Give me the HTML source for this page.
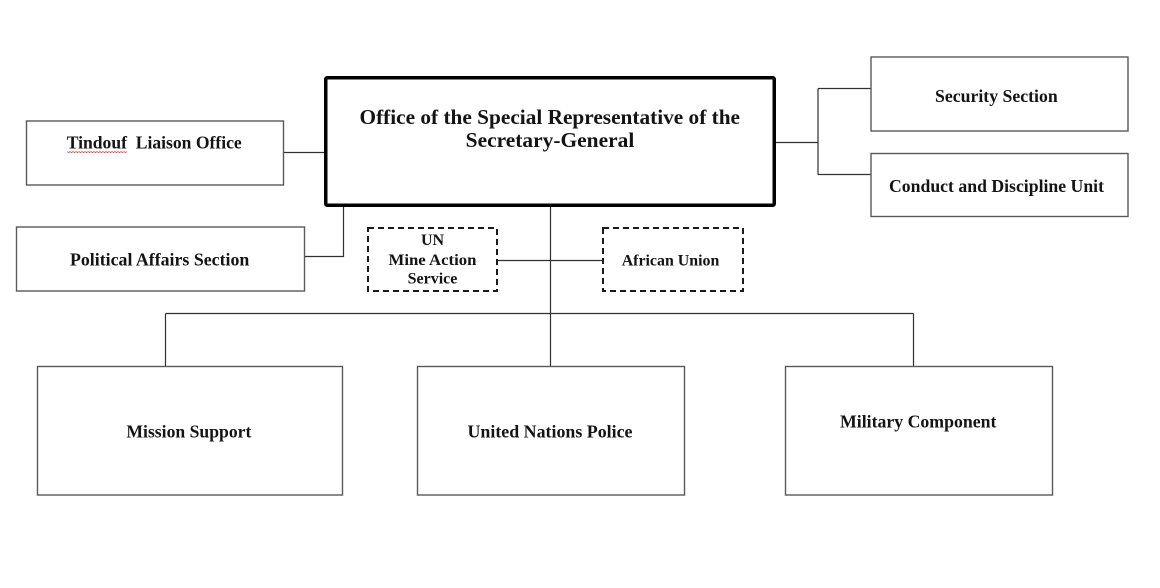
<!DOCTYPE html>
<html>
<head>
<meta charset="utf-8">
<style>
  html, body { margin: 0; padding: 0; background: #ffffff; }
  svg { display: block; }
  text { font-family: "Liberation Serif", "DejaVu Serif", serif; font-weight: bold; fill: #141414; }
</style>
</head>
<body>
<svg width="1160" height="588" viewBox="0 0 1160 588" xmlns="http://www.w3.org/2000/svg">
  <rect x="0" y="0" width="1160" height="588" fill="#ffffff"/>

  <!-- connectors -->
  <g stroke="#303030" stroke-width="1.2" fill="none">
    <line x1="283.5" y1="152.5" x2="324" y2="152.5"/>
    <polyline points="305,256.5 343.5,256.5 343.5,207"/>
    <line x1="550.5" y1="207" x2="550.5" y2="366"/>
    <line x1="497" y1="260.5" x2="603" y2="260.5"/>
    <line x1="165.5" y1="313.5" x2="913.5" y2="313.5"/>
    <line x1="165.5" y1="313.5" x2="165.5" y2="366"/>
    <line x1="913.5" y1="313.5" x2="913.5" y2="366"/>
    <line x1="776" y1="142.5" x2="818" y2="142.5"/>
    <line x1="818" y1="88.5" x2="818" y2="174.5"/>
    <line x1="818" y1="88.5" x2="871" y2="88.5"/>
    <line x1="818" y1="174.5" x2="871" y2="174.5"/>
  </g>

  <!-- main office box -->
  <rect x="325.75" y="77.75" width="448.5" height="127.5" rx="1.5" fill="#ffffff" stroke="#000000" stroke-width="3.5"/>

  <!-- solid boxes -->
  <g fill="#ffffff" stroke="#595959" stroke-width="1.4">
    <rect x="26.5" y="121" width="257" height="64"/>
    <rect x="16.5" y="227" width="288" height="64"/>
    <rect x="871" y="57" width="257" height="74"/>
    <rect x="871" y="153.5" width="257" height="63"/>
    <rect x="37.5" y="366.5" width="305" height="128.5"/>
    <rect x="417.5" y="366.5" width="267" height="128.5"/>
    <rect x="785.5" y="366.5" width="267" height="128.5"/>
  </g>

  <!-- dashed boxes -->
  <g fill="#ffffff" stroke="#1a1a1a" stroke-width="2" stroke-dasharray="6 4">
    <rect x="368" y="228" width="129" height="63"/>
    <rect x="603" y="228" width="140" height="63"/>
  </g>

  <!-- texts -->
  <text x="359.5" y="124" font-size="21.3" textLength="380.5" lengthAdjust="spacingAndGlyphs">Office of the Special Representative of the</text>
  <text x="465.7" y="147" font-size="21.3" textLength="168.6" lengthAdjust="spacingAndGlyphs">Secretary-General</text>

  <text x="66.7" y="148.5" font-size="17.6" textLength="175" lengthAdjust="spacingAndGlyphs" xml:space="preserve">Tindouf  Liaison Office</text>
  <path d="M67,151.5 l1.5,1.2 l1.5,-1.2 l1.5,1.2 l1.5,-1.2 l1.5,1.2 l1.5,-1.2 l1.5,1.2 l1.5,-1.2 l1.5,1.2 l1.5,-1.2 l1.5,1.2 l1.5,-1.2 l1.5,1.2 l1.5,-1.2 l1.5,1.2 l1.5,-1.2 l1.5,1.2 l1.5,-1.2 l1.5,1.2 l1.5,-1.2 l1.5,1.2 l1.5,-1.2 l1.5,1.2 l1.5,-1.2 l1.5,1.2 l1.5,-1.2 l1.5,1.2 l1.5,-1.2 l1.5,1.2 l1.5,-1.2 l1.5,1.2 l1.5,-1.2 l1.5,1.2 l1.5,-1.2 l1.5,1.2 l1.5,-1.2 l1.5,1.2 l1.5,-1.2 l1.5,1.2 l1.5,-1.2" fill="none" stroke="#e05050" stroke-width="0.8"/>

  <text x="70" y="265.5" font-size="17.6" textLength="179.3" lengthAdjust="spacingAndGlyphs">Political Affairs Section</text>

  <text x="935" y="101.8" font-size="17.6" textLength="122.7" lengthAdjust="spacingAndGlyphs">Security Section</text>
  <text x="889" y="192" font-size="17.6" textLength="215" lengthAdjust="spacingAndGlyphs">Conduct and Discipline Unit</text>

  <text x="432.5" y="245" font-size="16" text-anchor="middle">UN</text>
  <text x="432.5" y="265" font-size="16" text-anchor="middle" textLength="88" lengthAdjust="spacingAndGlyphs">Mine Action</text>
  <text x="432.5" y="283.5" font-size="16" text-anchor="middle">Service</text>

  <text x="621.7" y="265.5" font-size="16" textLength="97.6" lengthAdjust="spacingAndGlyphs">African Union</text>

  <text x="126.4" y="437.7" font-size="17.6" textLength="125" lengthAdjust="spacingAndGlyphs">Mission Support</text>
  <text x="467.5" y="437.7" font-size="17.6" textLength="165" lengthAdjust="spacingAndGlyphs">United Nations Police</text>
  <text x="840" y="427.3" font-size="17.6" textLength="156.4" lengthAdjust="spacingAndGlyphs">Military Component</text>
</svg>
</body>
</html>
